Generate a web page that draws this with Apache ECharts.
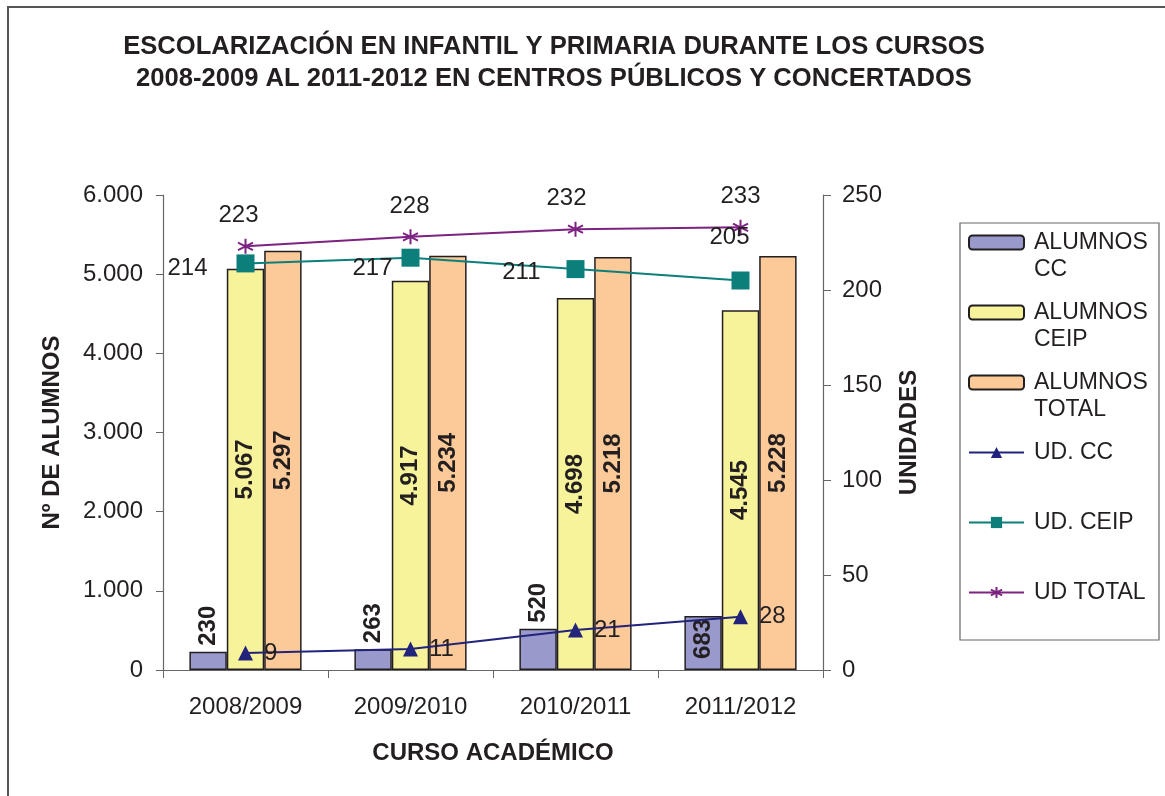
<!DOCTYPE html>
<html><head><meta charset="utf-8">
<script src="https://cdn.jsdelivr.net/npm/echarts@6/dist/echarts.min.js"></script>
<style>html,body{margin:0;padding:0;background:#fff}#c{width:1165px;height:796px}</style>
</head><body><div id="c"></div>
<script>
const categories = ['2008/2009', '2009/2010', '2010/2011', '2011/2012'];
const alumnosCC = [230, 263, 520, 683];
const alumnosCEIP = [5067, 4917, 4698, 4545];
const alumnosTotal = [5297, 5234, 5218, 5228];
const udCC = [9, 11, 21, 28];
const udCEIP = [214, 217, 211, 205];
const udTotal = [223, 228, 232, 233];
const seriesNames = ['ALUMNOS CC', 'ALUMNOS CEIP', 'ALUMNOS TOTAL', 'UD. CC', 'UD. CEIP', 'UD TOTAL'];
const titleLines = ['ESCOLARIZACIÓN EN INFANTIL Y PRIMARIA DURANTE LOS CURSOS', '2008-2009 AL 2011-2012 EN CENTROS PÚBLICOS Y CONCERTADOS'];

const FONT = "'Liberation Sans', Arial, sans-serif";
const INK = '#231f20';
const fmtThousands = v => String(v).replace(/\B(?=(\d{3})+(?!\d))/g, '.');

const chart = echarts.init(document.getElementById('c'));

const barBorder = { borderColor: INK, borderWidth: 1.5 };
const barLabelBase = { show: true, rotate: 90, fontFamily: FONT, fontSize: 24, fontWeight: 'bold', color: INK, formatter: p => fmtThousands(p.value) };

// per-point label placement (mirrors the hand-placed labels of the original)
const ccBarLabel = (v, i) => (i === 3
  ? { value: v, label: { position: 'insideTop', align: 'right', verticalAlign: 'middle', distance: 3 } }
  : { value: v });
const ceipLineLabel = [
  { position: 'left', distance: 29, offset: [0, 5] },
  { position: 'left', distance: 9, offset: [0, 11] },
  { position: 'left', distance: 26, offset: [0, 3] },
  { position: 'top', distance: 22, offset: [-11, 0] }
];
const totalLineLabel = [
  { offset: [-7, 0] }, { offset: [-1, 0] }, { offset: [-9, 0] }, { offset: [0, 0] }
];

const lineLabelBase = { show: true, fontFamily: FONT, fontSize: 24, color: INK };
const starPath = 'path://M5 0L5 10M0.67 2.5L9.33 7.5M9.33 2.5L0.67 7.5';

const option = {
  backgroundColor: '#fff',
  animation: false,
  title: {
    text: titleLines.join('\n'),
    left: 549, top: 26, textAlign: 'center',
    textStyle: { fontFamily: FONT, fontSize: 25.6, fontWeight: 'bold', color: INK, lineHeight: 32 }
  },
  graphic: [
    { type: 'rect', shape: { x: 8, y: 7, width: 1170, height: 800 }, style: { fill: 'none', stroke: '#555', lineWidth: 2 }, silent: true },
    { type: 'rect', shape: { x: 960, y: 223, width: 199, height: 417 }, style: { fill: 'none', stroke: '#666', lineWidth: 1.2 }, silent: true }
  ],
  legend: {
    orient: 'vertical', left: 968, top: 202, padding: 0, itemGap: -11,
    itemWidth: 55, itemHeight: 14,
    textStyle: { fontFamily: FONT, fontSize: 23, lineHeight: 27, color: INK },
    formatter: n => (n.indexOf('ALUMNOS ') === 0 ? '\n' + n.replace('ALUMNOS ', 'ALUMNOS\n') : n),
    data: seriesNames.map((n, i) => ({
      name: n,
      textStyle: { padding: i < 3 ? [0, 0, 0, 5] : [27, 0, 27, 5] }
    }))
  },
  grid: { left: 163, right: 342, top: 195, bottom: 126 },
  xAxis: {
    type: 'category', data: categories,
    axisLine: { lineStyle: { color: '#666', width: 1.2 } },
    axisTick: { show: true, length: 8, lineStyle: { color: '#666' } },
    axisLabel: { fontFamily: FONT, fontSize: 24, color: INK, margin: 25 },
    name: 'CURSO ACADÉMICO', nameLocation: 'middle', nameGap: 71,
    nameTextStyle: { fontFamily: FONT, fontSize: 24, fontWeight: 'bold', color: INK }
  },
  yAxis: [
    {
      type: 'value', min: 0, max: 6000, interval: 1000,
      axisLine: { show: true, lineStyle: { color: '#666', width: 1.2 } },
      axisTick: { show: true, length: 7, lineStyle: { color: '#666' } },
      splitLine: { show: false },
      axisLabel: { fontFamily: FONT, fontSize: 24, color: INK, margin: 20, formatter: fmtThousands },
      name: 'Nº DE ALUMNOS', nameLocation: 'middle', nameGap: 99,
      nameTextStyle: { fontFamily: FONT, fontSize: 24, fontWeight: 'bold', color: INK }
    },
    {
      type: 'value', min: 0, max: 250, interval: 50, position: 'right',
      axisLine: { show: true, lineStyle: { color: '#666', width: 1.2 } },
      axisTick: { show: true, length: 8, lineStyle: { color: '#666' } },
      splitLine: { show: false },
      axisLabel: { fontFamily: FONT, fontSize: 24, color: INK, margin: 19 },
      name: 'UNIDADES', nameLocation: 'middle', nameGap: 74,
      nameTextStyle: { fontFamily: FONT, fontSize: 24, fontWeight: 'bold', color: INK }
    }
  ],
  series: [
    {
      name: seriesNames[0], type: 'bar', barGap: '0%', barCategoryGap: '32%',
      itemStyle: Object.assign({ color: '#9999cc' }, barBorder),
      label: Object.assign({}, barLabelBase, { position: 'top', align: 'left', verticalAlign: 'middle', distance: 6 }),
      data: alumnosCC.map(ccBarLabel)
    },
    {
      name: seriesNames[1], type: 'bar',
      itemStyle: Object.assign({ color: '#f6f39b' }, barBorder),
      label: Object.assign({}, barLabelBase, { position: 'inside', align: 'center', verticalAlign: 'middle' }),
      data: alumnosCEIP
    },
    {
      name: seriesNames[2], type: 'bar',
      itemStyle: Object.assign({ color: '#fcca98' }, barBorder),
      label: Object.assign({}, barLabelBase, { position: 'inside', align: 'center', verticalAlign: 'middle' }),
      data: alumnosTotal
    },
    {
      name: seriesNames[3], type: 'line', yAxisIndex: 1, z: 5,
      symbol: 'triangle', symbolSize: 15,
      lineStyle: { color: '#22237a', width: 2 },
      itemStyle: { color: '#22237a' },
      label: Object.assign({}, lineLabelBase, { position: 'right', distance: 11 }),
      data: udCC
    },
    {
      name: seriesNames[4], type: 'line', yAxisIndex: 1, z: 5,
      symbol: 'rect', symbolSize: 18,
      lineStyle: { color: '#0c7f7b', width: 2 },
      itemStyle: { color: '#0c7f7b' },
      label: lineLabelBase,
      data: udCEIP.map((v, i) => ({ value: v, label: ceipLineLabel[i] }))
    },
    {
      name: seriesNames[5], type: 'line', yAxisIndex: 1, z: 5,
      symbol: starPath, symbolSize: 15,
      lineStyle: { color: '#7d2281', width: 2 },
      itemStyle: { color: '#7d2281', borderColor: '#7d2281', borderWidth: 2 },
      label: Object.assign({}, lineLabelBase, { position: 'top', distance: 10 }),
      data: udTotal.map((v, i) => ({ value: v, label: totalLineLabel[i] }))
    }
  ]
};
chart.setOption(option);
</script>
</body></html>
